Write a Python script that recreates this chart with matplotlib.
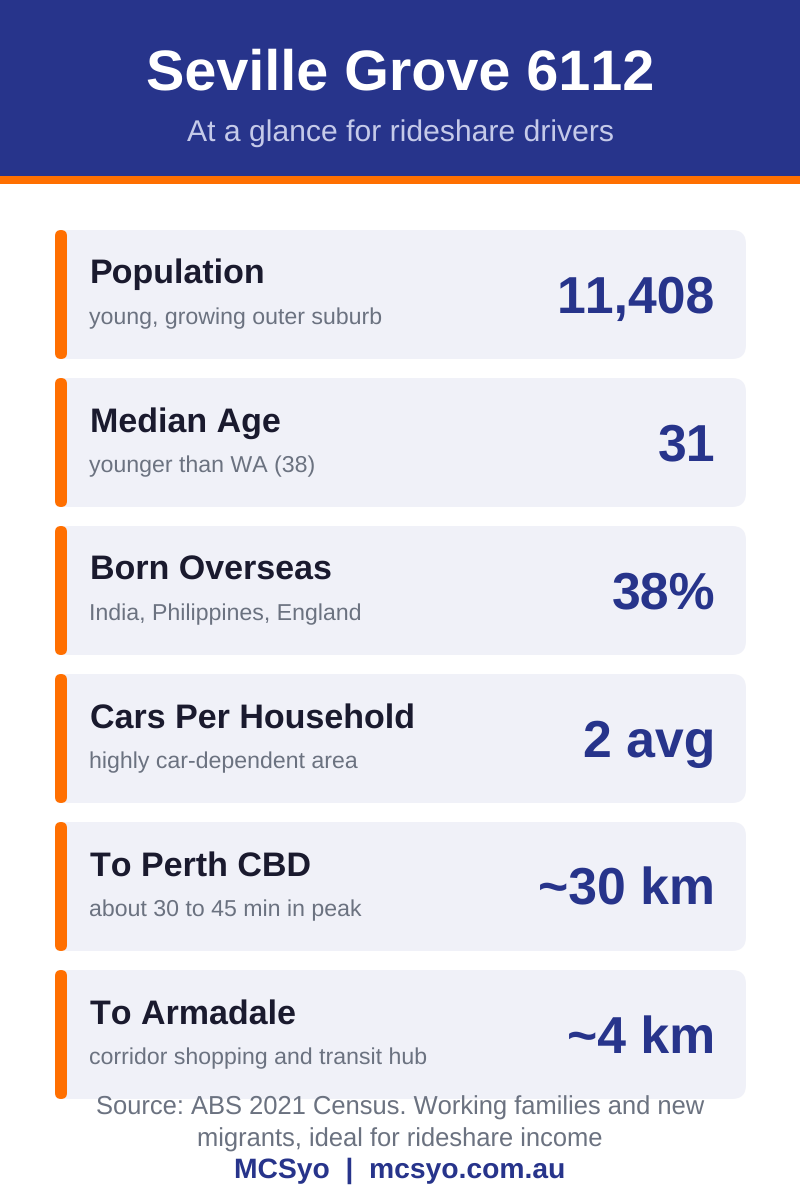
import matplotlib
matplotlib.use("Agg")
import matplotlib.pyplot as plt
from matplotlib.patches import Rectangle, FancyBboxPatch

title = "Seville Grove 6112"
subtitle = "At a glance for rideshare drivers"
labels = ["Population", "Median Age", "Born Overseas", "Cars Per Household", "To Perth CBD", "To Armadale"]
notes = ["young, growing outer suburb", "younger than WA (38)", "India, Philippines, England",
         "highly car-dependent area", "about 30 to 45 min in peak", "corridor shopping and transit hub"]
values = ["11,408", "31", "38%", "2 avg", "~30 km", "~4 km"]
source = ["Source: ABS 2021 Census. Working families and new", "migrants, ideal for rideshare income"]
brand = "MCSyo  |  mcsyo.com.au"

plt.rcParams['font.family'] = ['Liberation Sans', 'DejaVu Sans']
plt.rcParams['text.kerning_factor'] = 12
plt.rcParams['text.hinting'] = 'none'
NAVY, ORANGE, CARD = "#27348b", "#ff6f00", "#f0f1f8"
fig = plt.figure(figsize=(8, 12), dpi=100, facecolor="white")
ax = fig.add_axes([0, 0, 1, 1])
ax.set_xlim(0, 800); ax.set_ylim(1200, 0); ax.axis("off")

def px(size):
    return size * 0.72

ax.add_patch(Rectangle((0, 0), 800, 176, fc=NAVY, ec="none"))
ax.add_patch(Rectangle((0, 176), 800, 8, fc=ORANGE, ec="none"))
ax.text(400, 69, title, ha="center", va="center_baseline", color="white", fontsize=px(57.5), fontweight="bold")
ax.text(400, 130, subtitle, ha="center", va="center_baseline", color="#c5cae9", fontsize=px(30.1))

for i, (l, n, v) in enumerate(zip(labels, notes, values)):
    top = 230 + 148 * i
    ax.add_patch(FancyBboxPatch((55 + 14, top + 14), 691 - 28, 129 - 28,
                                boxstyle="round,pad=14,rounding_size=14", fc=CARD, ec="none"))
    ax.add_patch(FancyBboxPatch((55 + 6, top + 6), 0.01, 129 - 12,
                                boxstyle="round,pad=6,rounding_size=6", fc=ORANGE, ec="none"))
    ax.text(89.5, top + 41, l, ha="left", va="center_baseline", color="#1a1a2e", fontsize=px(34), fontweight="bold")
    ax.text(89, top + 86, n, ha="left", va="center_baseline", color="#6b7280", fontsize=px(23.1))
    ax.text(715, top + 64, v, ha="right", va="center_baseline", color=NAVY, fontsize=px(51.7), fontweight="bold")

ax.text(400, 1105, source[0], ha="center", va="center_baseline", color="#6b7280", fontsize=px(25.5))
ax.text(400, 1137, source[1], ha="center", va="center_baseline", color="#6b7280", fontsize=px(25.5))
ax.text(400, 1168, brand, ha="center", va="center_baseline", color=NAVY, fontsize=px(28.2), fontweight="bold")

fig.savefig("out.png", dpi=100, facecolor="white")
